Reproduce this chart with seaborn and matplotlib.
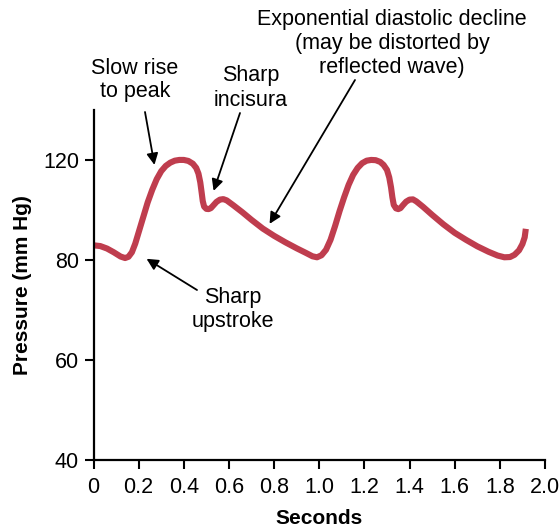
import numpy as np
import matplotlib
matplotlib.use("Agg")
import matplotlib.pyplot as plt
import seaborn as sns
import pandas as pd

# aortic pressure pulse, two beats (seconds, mm Hg)
TIME = [0.00, 0.03, 0.06, 0.09, 0.12, 0.14, 0.155, 0.17, 0.185, 0.20, 0.22, 0.24,
        0.26, 0.28, 0.30, 0.32, 0.34, 0.36, 0.38, 0.40, 0.42, 0.44, 0.455, 0.465,
        0.473, 0.479, 0.484, 0.49, 0.50, 0.51, 0.52, 0.53, 0.545, 0.56, 0.575, 0.59,
        0.62, 0.66, 0.70, 0.75, 0.80, 0.85, 0.90, 0.94, 0.97, 0.99, 1.01, 1.03,
        1.05, 1.07, 1.09, 1.11, 1.13, 1.15, 1.17, 1.19, 1.21, 1.23, 1.25, 1.27,
        1.285, 1.30, 1.31, 1.318, 1.324, 1.33, 1.34, 1.35, 1.36, 1.37, 1.385, 1.40,
        1.415, 1.43, 1.46, 1.50, 1.55, 1.60, 1.65, 1.70, 1.75, 1.79, 1.82, 1.845,
        1.865, 1.885, 1.90, 1.91, 1.915]
PRESSURE = [85.8, 85.5, 84.5, 83.0, 81.3, 80.7, 81.2, 83.0, 86.5, 91.0, 97.0, 103.0,
            108.0, 112.3, 115.5, 117.6, 118.9, 119.7, 120.0, 120.0, 119.6, 118.5, 116.8, 114.5,
            111.0, 107.0, 103.5, 101.3, 100.4, 100.3, 100.7, 101.7, 103.2, 104.1, 104.3, 103.8,
            101.8, 99.0, 96.0, 92.5, 89.6, 87.0, 84.6, 82.8, 81.4, 81.0, 81.8, 84.0,
            88.0, 93.5, 99.5, 105.0, 110.0, 114.0, 116.8, 118.7, 119.7, 120.0, 119.9, 119.2,
            118.0, 116.0, 113.0, 109.0, 105.0, 102.0, 100.6, 100.3, 100.7, 101.8, 103.3, 104.1,
            104.2, 103.4, 101.2, 98.0, 94.2, 90.8, 88.0, 85.4, 83.2, 81.7, 81.0, 81.1,
            82.0, 83.8, 86.3, 89.0, 92.4]

X_TICKS = [0, 0.2, 0.4, 0.6, 0.8, 1.0, 1.2, 1.4, 1.6, 1.8, 2.0]
X_TICK_LABELS = ["0", "0.2", "0.4", "0.6", "0.8", "1.0", "1.2", "1.4", "1.6", "1.8", "2.0"]
Y_TICKS = [40, 60, 80, 120]

# annotation text (one entry per line) and the (seconds, mm Hg) point each arrow points at
NOTES = [["Slow rise", "to peak"], ["Sharp", "incisura"],
         ["Exponential diastolic decline", "(may be distorted by", "reflected wave)"],
         ["Sharp", "upstroke"]]
NOTE_TIPS = [(0.27, 118.0), (0.532, 107.6), (0.78, 94.4), (0.235, 80.4)]

# the original axis is not linear: equal spacing for 40, 60, 80, 120
_REAL = [0, 40, 60, 80, 120, 200]
_TICKSPACE = [-2, 0, 1, 2, 3, 5]


def fwd(v):
    return np.interp(v, _REAL, _TICKSPACE)


def inv(v):
    return np.interp(v, _TICKSPACE, _REAL)


df = pd.DataFrame({"t": TIME, "p": PRESSURE})

sns.set_style("ticks")
plt.rcParams["font.family"] = ["Liberation Sans", "DejaVu Sans"]
for key in ("text.color", "axes.labelcolor", "xtick.color", "ytick.color", "axes.edgecolor"):
    plt.rcParams[key] = "black"

fig = plt.figure(figsize=(5.6, 5.29), dpi=100)
W, H = 560, 529
ax = fig.add_axes([93.5 / W, (H - 459.5) / H, (545 - 93.5) / W, (459.5 - 110) / H])
ax.set_yscale("function", functions=(fwd, inv))

sns.lineplot(data=df, x="t", y="p", sort=False, estimator=None, color="#bf3d4e",
             lw=4.4, solid_capstyle="butt", solid_joinstyle="round", ax=ax)

ax.set_xlim(0, 2.0)
ax.set_ylim(40, 140)
ax.set_xticks(X_TICKS)
ax.set_xticklabels(X_TICK_LABELS)
ax.set_yticks(Y_TICKS)
ax.set_yticklabels([str(v) for v in Y_TICKS])
ax.minorticks_off()
ax.tick_params(axis="both", length=6.5, width=1.5, labelsize=15.5, color="black",
               labelcolor="black")
ax.tick_params(axis="x", pad=6)
ax.tick_params(axis="y", pad=4)
for side in ("top", "right"):
    ax.spines[side].set_visible(False)
for side in ("left", "bottom"):
    ax.spines[side].set_linewidth(1.6)
    ax.spines[side].set_color("black")

ax.set_xlabel("Seconds", fontsize=15, fontweight="bold", labelpad=8)
ax.set_ylabel("Pressure (mm Hg)", fontsize=15, fontweight="bold", labelpad=8)

# first-line text centres and arrow tails in image pixels (top-left origin)
text_pos = [(135, 68), (251, 76), (392, 20), (233, 297)]
tail_pos = [(145, 112), (240, 113), (355, 80), (197, 290)]
LINE_STEP = 24
for lines, tip, (tx, ty), (ax_, ay_) in zip(NOTES, NOTE_TIPS, text_pos, tail_pos):
    for k, line in enumerate(lines):
        fig.text(tx / W, 1 - (ty + k * LINE_STEP) / H, line, ha="center", va="center",
                 fontsize=15.5)
    ax.annotate("", xy=tip, xycoords="data",
                xytext=(ax_, H - ay_), textcoords="figure pixels",
                arrowprops=dict(arrowstyle="-|>", color="black", lw=1.3,
                                mutation_scale=17, shrinkA=0, shrinkB=0),
                annotation_clip=False)

fig.savefig("out.png", dpi=100)
